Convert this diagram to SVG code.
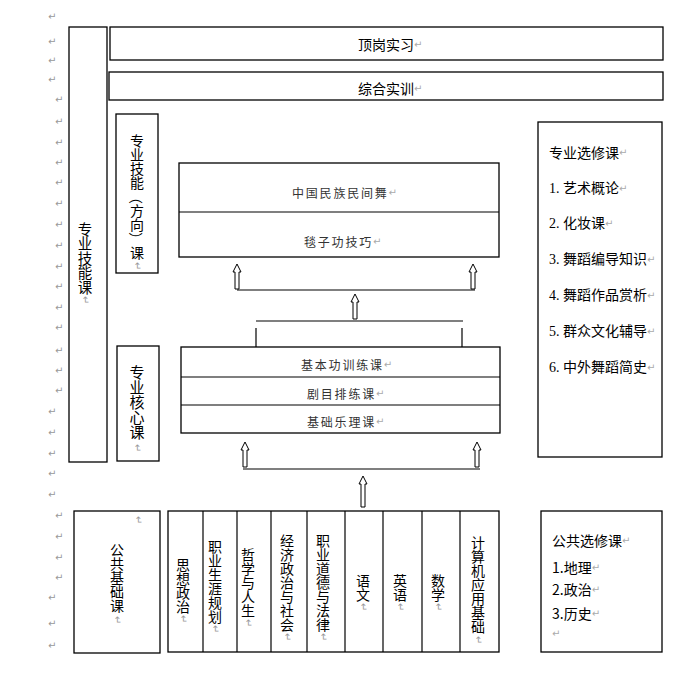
<svg xmlns="http://www.w3.org/2000/svg" width="690" height="674" viewBox="0 0 690 674">
<style>
.box{fill:none;stroke:#000;stroke-width:1.3}
.ln{stroke:#000;stroke-width:1.2;fill:none}
.t{font-family:"Noto Sans CJK SC","Noto Sans",sans-serif;font-size:14px;fill:#000;dominant-baseline:central}
.ts{font-family:"Liberation Serif","Noto Sans CJK SC",serif;font-size:14px;fill:#000;dominant-baseline:central}
.tm{font-family:"Noto Sans CJK SC",sans-serif;font-size:12px;fill:#333;dominant-baseline:central;letter-spacing:1.8px}
.v{font-family:"Noto Sans CJK SC",sans-serif;font-size:14px;fill:#000;writing-mode:vertical-rl}
.pc{font-family:"Noto Sans CJK SC",sans-serif;font-size:14px;fill:#000;text-anchor:middle;dominant-baseline:central}
.pm{font-family:"DejaVu Sans",sans-serif;font-size:10px;fill:#999}
.mk{font-family:"DejaVu Sans",sans-serif;font-size:10px;fill:#aaa;dominant-baseline:central}
.vm{font-family:"DejaVu Sans",sans-serif;font-size:10px;fill:#999;text-anchor:middle;dominant-baseline:central}
.arr{fill:#fff;stroke:#000;stroke-width:1}
</style>
<defs>
<path id="up25" d="M0,0 L4,8 L2,8 L2,25 L-2,25 L-2,8 L-4,8 Z"/>
<path id="up30" d="M0,0 L4,8 L2,8 L2,31 L-2,31 L-2,8 L-4,8 Z"/>
</defs>
<rect width="690" height="674" fill="#fff"/>

<g id="margin-marks" class="pm">
<text x="48" y="20">↵</text><text x="48" y="45">↵</text><text x="48" y="64">↵</text><text x="48" y="83">↵</text>
<text x="55" y="103">↵</text><text x="55" y="125">↵</text><text x="55" y="146">↵</text><text x="55" y="166">↵</text>
<text x="55" y="186">↵</text><text x="55" y="207">↵</text><text x="55" y="228">↵</text><text x="55" y="249">↵</text>
<text x="55" y="270">↵</text><text x="55" y="290">↵</text><text x="55" y="311">↵</text><text x="55" y="331">↵</text>
<text x="55" y="354">↵</text><text x="55" y="374">↵</text><text x="55" y="394">↵</text>
<text x="48" y="415">↵</text><text x="48" y="436">↵</text><text x="48" y="457">↵</text><text x="48" y="477">↵</text><text x="48" y="498">↵</text>
<text x="55" y="519">↵</text><text x="55" y="540">↵</text><text x="55" y="561">↵</text><text x="55" y="581">↵</text>
<text x="48" y="601">↵</text><text x="48" y="627">↵</text><text x="48" y="649">↵</text>
</g>

<g id="node-zhuanye-jineng">
<rect class="box" x="69" y="27" width="38" height="435"/>
<text class="v" x="85" y="222" style="font-size:14.5px">专业技能课</text>
<text class="vm" transform="rotate(90 85 300)" x="85" y="300">↵</text>
</g>

<g id="node-dinggang">
<rect class="box" x="110" y="27" width="553" height="33"/>
<text class="t" x="358" y="43.5">顶岗实习<tspan class="mk">↵</tspan></text>
</g>

<g id="node-zonghe">
<rect class="box" x="109" y="72" width="554" height="28"/>
<text class="t" x="358" y="88">综合实训<tspan class="mk">↵</tspan></text>
</g>

<g id="node-fangxiang">
<rect class="box" x="116" y="114" width="42" height="159"/>
<text class="v" x="137" y="134">专业技能</text>
<text class="pc" transform="rotate(90 137 197)" x="137" y="197">（</text>
<text class="v" x="137" y="204">方向</text>
<text class="pc" transform="rotate(90 137 239)" x="137" y="239">）</text>
<text class="v" x="137" y="246">课</text>
<text class="vm" transform="rotate(90 137 266)" x="137" y="266">↵</text>
</g>

<g id="node-hexin">
<rect class="box" x="117" y="346" width="42" height="115"/>
<text class="v" x="137" y="365" style="font-size:15px">专业核心课</text>
<text class="vm" transform="rotate(90 137 448)" x="137" y="448">↵</text>
</g>

<g id="node-upper-stack">
<rect class="box" x="179" y="163" width="320" height="94"/>
<line class="ln" x1="179" y1="212" x2="499" y2="212"/>
<text class="tm" x="292" y="192">中国民族民间舞<tspan class="mk" style="letter-spacing:0">↵</tspan></text>
<text class="tm" x="304" y="241">毯子功技巧<tspan class="mk" style="letter-spacing:0">↵</tspan></text>
</g>

<g id="node-lower-stack">
<rect class="box" x="181" y="347" width="319" height="86"/>
<line class="ln" x1="181" y1="377" x2="500" y2="377"/>
<line class="ln" x1="181" y1="405" x2="500" y2="405"/>
<text class="tm" x="301" y="364">基本功训练课<tspan class="mk" style="letter-spacing:0">↵</tspan></text>
<text class="tm" x="307" y="393">剧目排练课<tspan class="mk" style="letter-spacing:0">↵</tspan></text>
<text class="tm" x="307" y="421">基础乐理课<tspan class="mk" style="letter-spacing:0">↵</tspan></text>
</g>

<g id="node-zhuanye-xuanxiu">
<rect class="box" x="538" y="122" width="124" height="335"/>
<text class="t" x="549" y="152">专业选修课<tspan class="mk">↵</tspan></text>
<text class="ts" x="549" y="188">1. 艺术概论<tspan class="mk">↵</tspan></text>
<text class="ts" x="549" y="223">2. 化妆课<tspan class="mk">↵</tspan></text>
<text class="ts" x="549" y="259">3. 舞蹈编导知识<tspan class="mk">↵</tspan></text>
<text class="ts" x="549" y="295">4. 舞蹈作品赏析<tspan class="mk">↵</tspan></text>
<text class="ts" x="549" y="331">5. 群众文化辅导<tspan class="mk">↵</tspan></text>
<text class="ts" x="549" y="367">6. 中外舞蹈简史<tspan class="mk">↵</tspan></text>
</g>

<g id="node-gonggong-jichu">
<rect class="box" x="74" y="511" width="86" height="142"/>
<text class="vm" transform="rotate(90 138 520)" x="138" y="520">↵</text>
<text class="v" x="117" y="543">公共基础课</text>
<text class="vm" transform="rotate(90 117 620)" x="117" y="620">↵</text>
</g>

<g id="node-courses">
<rect class="box" x="168" y="511" width="331" height="141"/>
<line class="ln" x1="203" y1="511" x2="203" y2="652"/>
<line class="ln" x1="237" y1="511" x2="237" y2="652"/>
<line class="ln" x1="271" y1="511" x2="271" y2="652"/>
<line class="ln" x1="307" y1="511" x2="307" y2="652"/>
<line class="ln" x1="345" y1="511" x2="345" y2="652"/>
<line class="ln" x1="383" y1="511" x2="383" y2="652"/>
<line class="ln" x1="422" y1="511" x2="422" y2="652"/>
<line class="ln" x1="460" y1="511" x2="460" y2="652"/>
<text class="v" x="183" y="558">思想政治</text>
<text class="vm" transform="rotate(90 183 619)" x="183" y="619">↵</text>
<text class="v" x="215" y="540">职业生涯规划</text>
<text class="vm" transform="rotate(90 215 629)" x="215" y="629">↵</text>
<text class="v" x="248" y="548">哲学与人生</text>
<text class="vm" transform="rotate(90 248 623)" x="248" y="623">↵</text>
<text class="v" x="287" y="534">经济政治与社会</text>
<text class="vm" transform="rotate(90 287 637)" x="287" y="637">↵</text>
<text class="v" x="323" y="534">职业道德与法律</text>
<text class="vm" transform="rotate(90 323 637)" x="323" y="637">↵</text>
<text class="v" x="363" y="574">语文</text>
<text class="vm" transform="rotate(90 363 607)" x="363" y="607">↵</text>
<text class="v" x="400" y="574">英语</text>
<text class="vm" transform="rotate(90 400 607)" x="400" y="607">↵</text>
<text class="v" x="438" y="574">数学</text>
<text class="vm" transform="rotate(90 438 607)" x="438" y="607">↵</text>
<text class="v" x="478" y="536">计算机应用基础</text>
<text class="vm" transform="rotate(90 478 640)" x="478" y="640">↵</text>
</g>

<g id="node-gonggong-xuanxiu">
<rect class="box" x="541" y="511" width="121" height="141"/>
<text class="t" x="552" y="540">公共选修课<tspan class="mk">↵</tspan></text>
<text class="t" x="552" y="567">1.地理<tspan class="mk">↵</tspan></text>
<text class="t" x="552" y="589">2.政治<tspan class="mk">↵</tspan></text>
<text class="t" x="552" y="613">3.历史<tspan class="mk">↵</tspan></text>
<text class="mk" x="552" y="633">↵</text>
</g>

<g id="connectors">
<use href="#up25" class="arr" x="237" y="264"/>
<use href="#up25" class="arr" x="473" y="264"/>
<line class="ln" x1="237" y1="290" x2="475" y2="290"/>
<use href="#up25" class="arr" x="355" y="294"/>
<line class="ln" x1="256" y1="321" x2="463" y2="321"/>
<line class="ln" x1="256" y1="328" x2="256" y2="347"/>
<line class="ln" x1="462" y1="328" x2="462" y2="347"/>
<use href="#up25" class="arr" x="245" y="442"/>
<use href="#up25" class="arr" x="477" y="442"/>
<line class="ln" x1="243" y1="469" x2="480" y2="469"/>
<use href="#up30" class="arr" x="363" y="476"/>
</g>
</svg>
